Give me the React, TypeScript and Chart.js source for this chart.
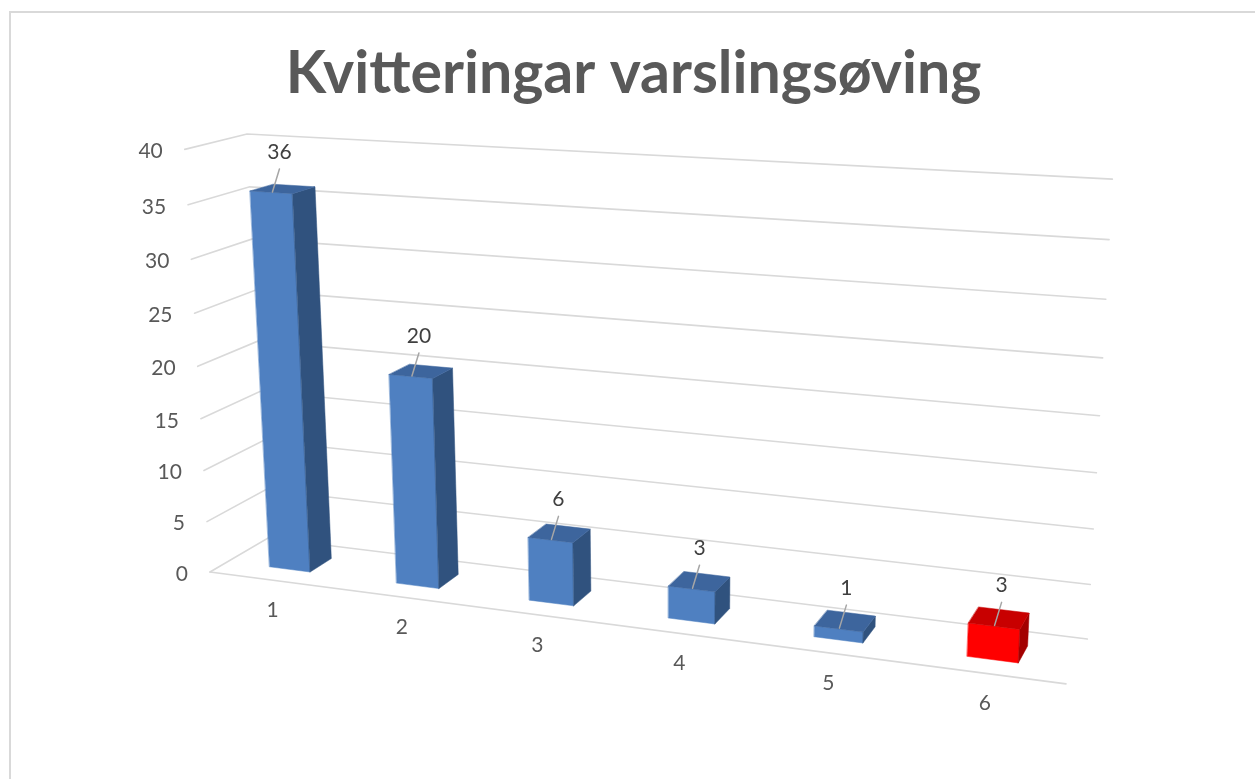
import React, { useEffect, useRef } from "react";
import { Chart, registerables } from "chart.js";

Chart.register(...registerables);

// ---- data ----
const TITLE = "Kvitteringar varslingsøving";
const CATEGORIES = ["1", "2", "3", "4", "5", "6"];
const VALUES = [36, 20, 6, 3, 1, 3];
const FRONT_COLORS = ["#4F80C1", "#4F80C1", "#4F80C1", "#4F80C1", "#4F80C1", "#FF0000"];
const TOP_COLORS = ["#3D659D", "#3D659D", "#3D659D", "#3D659D", "#3D659D", "#C80000"];
const SIDE_COLORS = ["#30527E", "#30527E", "#30527E", "#30527E", "#30527E", "#A30000"];
const Y_MIN = 0;
const Y_MAX = 40;
const Y_STEP = 5;

// ---- style / perspective camera (3-point perspective of the Excel 3D view) ----
const W = 1255;
const H = 779;
const ORIGIN = [210, 572];
const VP_X = [-5383, -159];
const VP_Y = [671, 8292];
const VP_Z = [1472, -168];
const WX = -0.13273;
const WY = -0.0519;
const WZ = 0.04817;
const Z_FRONT = 0.3;
const Z_BACK = 0.685;
const GRID = "#D9D9D9";
const TEXT = "#595959";
const LABEL = "#404040";
const LEADER = "#A6A6A6";
const FONT = "Lato, 'Open Sans', sans-serif";
const LABEL_SIZE = 21;

function proj(x: number, y: number, z: number): [number, number] {
  const hx = ORIGIN[0] + WX * VP_X[0] * x + WY * VP_Y[0] * y + WZ * VP_Z[0] * z;
  const hy = ORIGIN[1] + WX * VP_X[1] * x + WY * VP_Y[1] * y + WZ * VP_Z[1] * z;
  const w = 1 + WX * x + WY * y + WZ * z;
  return [hx / w, hy / w];
}

function poly(ctx: CanvasRenderingContext2D, pts: [number, number][], fill: string) {
  ctx.beginPath();
  ctx.moveTo(pts[0][0], pts[0][1]);
  for (let i = 1; i < pts.length; i++) ctx.lineTo(pts[i][0], pts[i][1]);
  ctx.closePath();
  ctx.fillStyle = fill;
  ctx.fill();
  ctx.strokeStyle = fill;
  ctx.lineWidth = 0.5;
  ctx.stroke();
}

function line(ctx: CanvasRenderingContext2D, pts: [number, number][]) {
  ctx.beginPath();
  ctx.moveTo(pts[0][0], pts[0][1]);
  for (let i = 1; i < pts.length; i++) ctx.lineTo(pts[i][0], pts[i][1]);
  ctx.stroke();
}

const perspectivePlugin = {
  id: "perspective3d",
  beforeDatasetsDraw(chart: any) {
    const ctx: CanvasRenderingContext2D = chart.ctx;
    const ca = chart.chartArea;
    const ys = chart.scales.y;
    const xs = chart.scales.x;
    const yn = (v: number) => (ca.bottom - ys.getPixelForValue(v)) / ca.height;
    const xn = (px: number) => (px - ca.left) / ca.width;

    ctx.save();
    // walls gridlines
    ctx.strokeStyle = GRID;
    ctx.lineWidth = 1.6;
    ctx.lineCap = "round";
    for (const t of ys.ticks) {
      const n = yn(t.value);
      line(ctx, [proj(0, n, 0), proj(0, n, 1), proj(1, n, 1)]);
    }
    line(ctx, [proj(0, 0, 0), proj(1, 0, 0)]);

    // value tick labels
    ctx.fillStyle = TEXT;
    ctx.font = `${LABEL_SIZE}px ${FONT}`;
    ctx.textAlign = "right";
    ctx.textBaseline = "middle";
    for (const t of ys.ticks) {
      const p = proj(0, yn(t.value), 0);
      ctx.fillText(String(t.value), p[0] - 22, p[1] + 2);
    }

    // category labels
    ctx.textAlign = "center";
    chart.data.labels.forEach((lab: string, i: number) => {
      const p = proj(xn(xs.getPixelForValue(i)), 0, 0);
      ctx.fillText(lab, p[0], p[1] + 30);
    });

    // bars
    const meta = chart.getDatasetMeta(0);
    const ds = chart.data.datasets[0];
    meta.data.forEach((el: any, i: number) => {
      const c = xn(el.x);
      const half = el.width / 2 / ca.width;
      const h = yn(ds.data[i]);
      const x0 = c - half;
      const x1 = c + half;
      poly(ctx, [proj(x0, 0, Z_FRONT), proj(x1, 0, Z_FRONT), proj(x1, h, Z_FRONT), proj(x0, h, Z_FRONT)], FRONT_COLORS[i]);
      poly(ctx, [proj(x1, 0, Z_FRONT), proj(x1, 0, Z_BACK), proj(x1, h, Z_BACK), proj(x1, h, Z_FRONT)], SIDE_COLORS[i]);
      poly(ctx, [proj(x0, h, Z_FRONT), proj(x1, h, Z_FRONT), proj(x1, h, Z_BACK), proj(x0, h, Z_BACK)], TOP_COLORS[i]);
    });

    // data labels with leader lines
    meta.data.forEach((el: any, i: number) => {
      const c = xn(el.x);
      const h = yn(ds.data[i]);
      const p = proj(c, h, Z_FRONT + 0.02);
      ctx.strokeStyle = LEADER;
      ctx.lineWidth = 1.5;
      line(ctx, [[p[0], p[1]], [p[0] + 7, p[1] - 23]]);
      ctx.fillStyle = LABEL;
      ctx.font = `${LABEL_SIZE}px ${FONT}`;
      ctx.textAlign = "center";
      ctx.textBaseline = "middle";
      ctx.fillText(String(ds.data[i]), p[0] + 7, p[1] - 40);
    });
    ctx.restore();
    return false;
  },
};

function titleSize(): number {
  const c = document.createElement("canvas").getContext("2d")!;
  c.font = `bold 100px ${FONT}`;
  const w = c.measureText(TITLE).width;
  return Math.round((100 * 697) / w);
}

export default function App() {
  const ref = useRef<HTMLCanvasElement | null>(null);
  useEffect(() => {
    if (!ref.current) return;
    const size = titleSize();
    const chart = new Chart(ref.current, {
      type: "bar",
      data: {
        labels: CATEGORIES,
        datasets: [
          {
            data: VALUES,
            backgroundColor: FRONT_COLORS,
            categoryPercentage: 1,
            barPercentage: 0.324,
          },
        ],
      },
      options: {
        responsive: false,
        animation: false,
        layout: { padding: { left: 12, top: 0 } },
        plugins: {
          legend: { display: false },
          tooltip: { enabled: false },
          title: {
            display: true,
            text: TITLE,
            color: TEXT,
            font: { family: FONT, size, weight: "bold" },
            padding: { top: 74 - size * 0.6, bottom: 10 },
          },
        },
        scales: {
          x: { display: false },
          y: { display: false, min: Y_MIN, max: Y_MAX, ticks: { stepSize: Y_STEP } },
        },
      },
      plugins: [perspectivePlugin],
    });
    return () => chart.destroy();
  }, []);
  return (
    <div style={{ position: "fixed", left: 0, top: 0, width: W, height: H, background: "#fff", overflow: "hidden" }}>
      <div
        style={{
          position: "absolute",
          left: 9,
          top: 11,
          width: W,
          height: H,
          borderLeft: "2px solid #D9D9D9",
          borderTop: "2px solid #D9D9D9",
        }}
      />
      <canvas ref={ref} width={W} height={H} style={{ position: "absolute", left: 0, top: 0 }} />
    </div>
  );
}
